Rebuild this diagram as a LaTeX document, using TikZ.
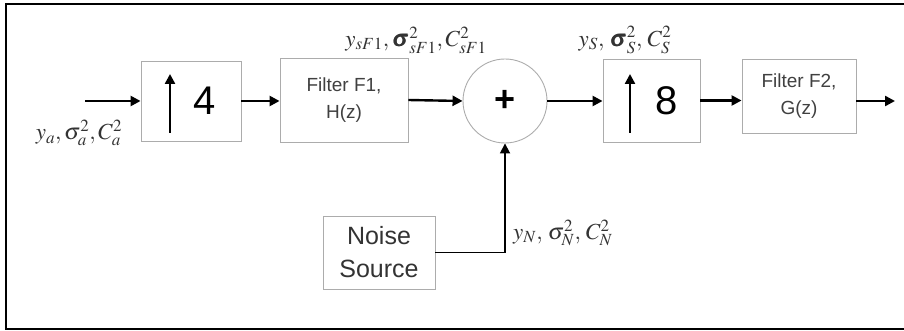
\documentclass[tikz,border=0pt]{standalone}
\usepackage{amsmath,amssymb}
\usepackage{mathptmx}
\usepackage{bm}
\usepackage{fontspec}
\setmainfont{Liberation Sans}
\usetikzlibrary{arrows.meta}

\begin{document}
\begin{tikzpicture}[x=1pt,y=-1pt,
    blk/.style={draw=gray!65, line width=0.9pt, inner sep=0pt},
    sig/.style={line width=2.4pt, -{Triangle[length=10pt,width=10pt]}},
    lbl/.style={font=\fontsize{23}{23}\selectfont, inner sep=0pt, text=black!80}]
  \useasboundingbox (0,0) rectangle (904,331);

  % Frame
  \draw[line width=1.6pt] (910,4) -- (6,4) -- (6,329) -- (910,329);

  % Upsampler by 4
  \node[blk, minimum width=100pt, minimum height=80pt] (upfour) at (191,101) {};
  \draw[line width=2.4pt, -{Triangle[length=10pt,width=10pt]}] (170,133) -- (170,74);
  \node[font=\fontsize{40}{40}\selectfont] (nfour) at (205,101) {4};

  % Filter F1
  \node[blk, minimum width=128pt, minimum height=84pt, align=center,
        font=\fontsize{19}{27}\selectfont, text=black!75] (fone) at (344,100) {Filter F1,\\H(z)};

  % Summing junction
  \node[blk, circle, minimum size=84pt, font=\fontsize{36}{36}\bfseries\selectfont] (sum) at (505,101) {+};

  % Upsampler by 8
  \node[blk, minimum width=97pt, minimum height=83pt] (upeight) at (651.5,100.5) {};
  \draw[line width=2.4pt, -{Triangle[length=10pt,width=10pt]}] (630,133) -- (630,74);
  \node[font=\fontsize{40}{40}\selectfont] (neight) at (667,101) {8};

  % Filter F2
  \node[blk, minimum width=114pt, minimum height=74pt, align=center,
        font=\fontsize{19}{27}\selectfont, text=black!75] (ftwo) at (799,96) {Filter F2,\\G(z)};

  % Noise source
  \node[blk, minimum width=112pt, minimum height=73pt, align=center,
        font=\fontsize{25}{33}\selectfont, text=black!80] (noise) at (379,252.5) {Noise\\Source};

  % Signal path
  \coordinate (in) at (85,101);
  \coordinate (out) at (895,101);
  \draw[sig] (in) -- (upfour.west |- in);
  \draw[sig] (upfour.east) -- (upfour.east -| fone.west);
  \draw[sig] (fone.east) -- (sum.west);
  \draw[sig] (sum.east) -- (sum.east -| upeight.west);
  \draw[sig] (upeight.east) -- (upeight.east -| ftwo.west);
  \draw[sig] (ftwo.east |- out) -- (out);
  \draw[sig, line width=1.8pt] (noise.east) -| (sum.south);

  % Signal labels
  \node[lbl] (la) at (79,133) {$y_a,\sigma_a^2,C_a^2$};
  \node[lbl] (lsf) at (416,40) {$y_{sF1},\bm{\sigma}^2_{sF1},C^2_{sF1}$};
  \node[lbl] (ls) at (625,40) {$y_S,\,\bm{\sigma}_S^2,\,C_S^2$};
  \node[lbl, anchor=west] (ln) at (513,233) {$y_N,\,\sigma_N^2,\,C_N^2$};
\end{tikzpicture}
\end{document}
